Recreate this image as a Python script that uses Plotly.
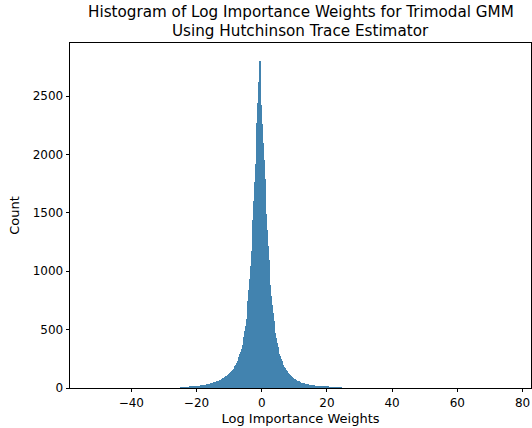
import numpy as np
import plotly.graph_objects as go

# Histogram bins (log importance weights), bin width 0.25
BIN_START = -24.975
BIN_WIDTH = 0.25

counts_left = [2, 3, 2, 4, 3, 5, 4, 6, 7, 6, 8, 9, 8, 10, 11, 12, 11, 14, 15, 16,
               15, 18, 19, 20, 21, 22, 24, 25, 26, 27, 29, 30, 32, 33, 35, 36, 38, 40,
               42, 44, 46, 48, 50, 53, 55, 58, 61, 64, 67, 70, 74, 78, 82, 86, 91, 96,
               101, 107, 113, 119, 126, 133, 141, 149, 158, 167, 178, 189, 201, 215,
               230, 247, 266, 287, 311, 338, 368, 402, 440, 484, 535, 595, 665, 745,
               835, 935, 1045, 1170, 1300, 1440, 1600, 1760, 1920, 2090, 2270, 2440, 2620]
counts_peak = [2800]
counts_right = [2570, 2420, 2260, 2100, 1950, 1790, 1640, 1490, 1350, 1220, 1100, 985,
                880, 790, 710, 638, 575, 520, 470, 426, 387, 352, 321, 294, 270, 248,
                229, 211, 195, 181, 168, 156, 146, 137, 128, 120, 112, 105, 98, 92, 86,
                81, 76, 71, 67, 63, 59, 56, 52, 49, 47, 44, 42, 40, 38, 36, 34, 32, 31,
                29, 28, 27, 26, 25, 24, 23, 22, 21, 21, 20, 19, 18, 18, 17, 16, 15, 14,
                13, 12, 11, 11, 10, 9, 9, 8, 7, 7, 6, 5, 5, 4, 4, 3, 3, 2, 2, 2, 1, 1, 1]

counts = counts_left + counts_peak + counts_right
x_ticks = [-40, -20, 0, 20, 40, 60, 80]
y_ticks = [0, 500, 1000, 1500, 2000, 2500]
title_lines = ["Histogram of Log Importance Weights for Trimodal GMM",
               "Using Hutchinson Trace Estimator"]

centers = BIN_START + BIN_WIDTH * (np.arange(len(counts)) + 0.5)

FONT = "DejaVu Sans"
fig = go.Figure()
fig.add_trace(go.Bar(
    x=centers, y=counts, width=BIN_WIDTH,
    marker=dict(color="rgb(66,131,175)", line=dict(width=0)),
    showlegend=False,
))

fig.update_layout(
    width=532, height=428,
    margin=dict(l=70, r=1, t=43, b=40),
    paper_bgcolor="white", plot_bgcolor="white",
    bargap=0,
    font=dict(family=FONT, size=12, color="black"),
)
for line, ypaper in zip(title_lines, [(388 - 12.5) / 345, (388 - 30.5) / 345]):
    fig.add_annotation(
        text=line, xref="paper", yref="paper", x=0.5, y=ypaper,
        xanchor="center", yanchor="middle", showarrow=False,
        font=dict(family=FONT, size=15.2, color="black"),
    )
fig.update_xaxes(
    range=[-58.8, 82.6], tickvals=x_ticks, ticktext=[str(v).replace("-", "\u2212") for v in x_ticks],
    ticks="outside", ticklen=3.5, tickwidth=0.8, tickcolor="black",
    showline=True, linecolor="black", linewidth=0.8, mirror=True,
    showgrid=False, zeroline=False,
    tickfont=dict(family=FONT, size=12),
    title=dict(text="Log Importance Weights", font=dict(family=FONT, size=13), standoff=5),
)
fig.update_yaxes(
    range=[0, 2954], tickvals=y_ticks,
    ticks="outside", ticklen=3.5, tickwidth=0.8, tickcolor="black",
    showline=True, linecolor="black", linewidth=0.8, mirror=True,
    showgrid=False, zeroline=False,
    tickfont=dict(family=FONT, size=12),
    title=dict(text="Count", font=dict(family=FONT, size=13), standoff=10),
)

fig.write_html("out.html", config={"displayModeBar": False},
               post_script="document.body.style.margin='0';document.body.style.overflow='hidden';")
